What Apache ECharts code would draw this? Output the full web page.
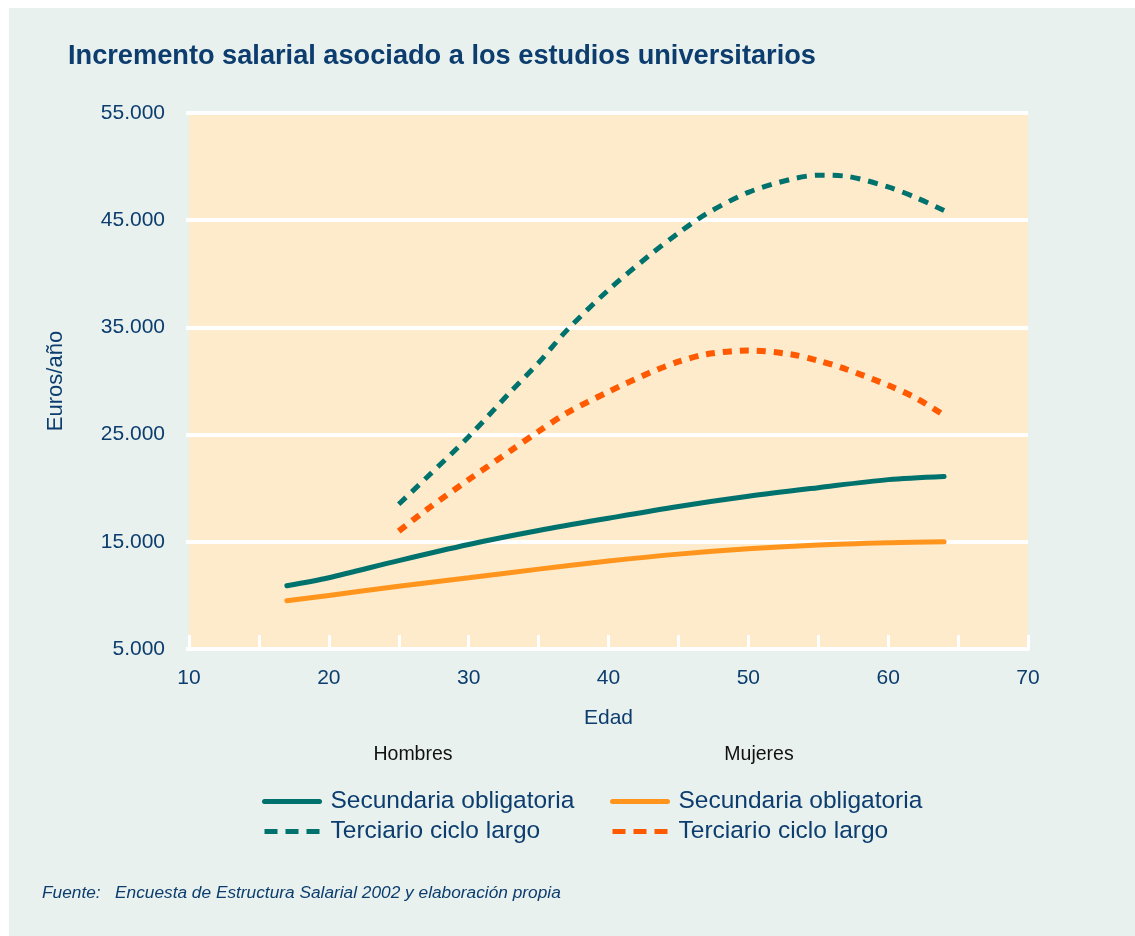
<!DOCTYPE html>
<html>
<head>
<meta charset="utf-8">
<script src="https://cdn.jsdelivr.net/npm/echarts@6/dist/echarts.min.js"></script>
<style>
  html, body { margin: 0; padding: 0; background: #fff; }
  #wrap { position: relative; width: 1135px; height: 936px; background: #fff; }
  #chart { position: absolute; left: 9px; top: 8px; width: 1126px; height: 928px; }
</style>
</head>
<body>
<div id="wrap"><div id="chart"></div></div>
<script>
// datos
const agesSec = [17, 20, 25, 30, 35, 40, 45, 50, 55, 60, 64]
const hombresSec = [10900, 11650, 13250, 14750, 16050, 17200, 18300, 19250, 20050, 20800, 21100]
const mujeresSec = [9500, 10000, 10850, 11650, 12450, 13200, 13850, 14350, 14700, 14900, 15000]

const agesTer = [25, 27, 30, 33, 35, 37, 40, 43, 45, 47, 50, 53, 55, 57, 60, 62, 64]
const hombresTer = [18500, 21000, 24800, 29000, 31700, 34700, 38500, 41800, 43800, 45600, 47600, 48800, 49200, 49100, 48100, 47100, 45900]
const mujeresTer = [16000, 18000, 20800, 23500, 25300, 27000, 29000, 30800, 31800, 32500, 32850, 32500, 31900, 31100, 29600, 28400, 26800]

const yTicks = [5000, 15000, 25000, 35000, 45000, 55000]

const TEAL = '#00726D'
const ORANGE = '#FF951C'
const RED_ORANGE = '#FF5A00'
const BLUE_TXT = '#0C3D6E'
const FONT = 'Liberation Sans, Arial, sans-serif'

const pairs = (xs, ys) => xs.map((x, i) => [x, ys[i]])
const miles = v => String(v).replace(/\B(?=(\d{3})+(?!\d))/g, '.')
const legendLabel = name => name.split(' · ')[1]

// leyenda: solo la linea, sin simbolo
const noSymbol = { color: 'rgba(0,0,0,0)', borderWidth: 0 }
const legendBase = {
  orient: 'vertical',
  top: 781,
  padding: 0,
  itemWidth: 55,
  itemHeight: 14,
  itemGap: 5,
  selectedMode: false,
  formatter: legendLabel,
  lineStyle: { width: 5 },
  textStyle: { color: BLUE_TXT, fontSize: 24.5, fontFamily: FONT, padding: [0, 0, 0, 6] }
}

const chart = echarts.init(document.getElementById('chart'))

const option = {
  backgroundColor: '#E8F1EE',
  animation: false,
  textStyle: { fontFamily: FONT },
  title: [
    {
      text: 'Incremento salarial asociado a los estudios universitarios',
      left: 59,
      top: 35,
      padding: 0,
      textStyle: { color: BLUE_TXT, fontSize: 27.2, fontWeight: 'bold', fontFamily: FONT }
    },
    {
      text: 'Fuente:   Encuesta de Estructura Salarial 2002 y elaboración propia',
      left: 33,
      top: 877,
      padding: 0,
      textStyle: { color: BLUE_TXT, fontSize: 17.3, fontStyle: 'italic', fontWeight: 'normal', fontFamily: FONT }
    }
  ],
  graphic: [
    { type: 'text', x: 404, y: 747, style: { text: 'Hombres', fill: '#111', font: '19.5px ' + FONT, align: 'center', verticalAlign: 'middle' } },
    { type: 'text', x: 750, y: 747, style: { text: 'Mujeres', fill: '#111', font: '19.5px ' + FONT, align: 'center', verticalAlign: 'middle' } }
  ],
  grid: {
    left: 180,
    top: 105,
    right: 107,
    bottom: 287,
    show: true,
    backgroundColor: '#FEEBCB',
    borderWidth: 0
  },
  legend: [
    Object.assign({}, legendBase, {
      left: 253,
      data: [
        { name: 'H · Secundaria obligatoria', itemStyle: noSymbol },
        { name: 'H · Terciario ciclo largo', itemStyle: noSymbol, lineStyle: { type: [13, 8] } }
      ]
    }),
    Object.assign({}, legendBase, {
      left: 601,
      data: [
        { name: 'M · Secundaria obligatoria', itemStyle: noSymbol },
        { name: 'M · Terciario ciclo largo', itemStyle: noSymbol, lineStyle: { type: [13, 8] } }
      ]
    })
  ],
  xAxis: {
    type: 'value',
    min: 10,
    max: 70,
    interval: 10,
    name: 'Edad',
    nameLocation: 'middle',
    nameGap: 59,
    nameTextStyle: { color: BLUE_TXT, fontSize: 21, fontFamily: FONT },
    axisLine: { show: true, lineStyle: { color: '#fff', width: 4 } },
    axisTick: { show: true, inside: true, length: 14, lineStyle: { color: '#fff', width: 3 } },
    minorTick: { show: true, splitNumber: 2, length: 14, lineStyle: { color: '#fff', width: 3 } },
    splitLine: { show: false },
    axisLabel: { color: BLUE_TXT, fontSize: 21, margin: 19, fontFamily: FONT }
  },
  yAxis: {
    type: 'value',
    min: yTicks[0],
    max: yTicks[yTicks.length - 1],
    interval: 10000,
    name: 'Euros/año',
    nameLocation: 'middle',
    nameGap: 122,
    nameTextStyle: { color: BLUE_TXT, fontSize: 22, fontFamily: FONT },
    axisLine: { show: false },
    axisTick: { show: true, length: 3, lineStyle: { color: '#fff', width: 4 } },
    splitLine: { show: true, lineStyle: { color: '#fff', width: 4 } },
    axisLabel: { color: BLUE_TXT, fontSize: 21, margin: 24, fontFamily: FONT, formatter: miles }
  },
  series: [
    {
      name: 'H · Secundaria obligatoria',
      type: 'line',
      smooth: 0.3,
      symbol: 'none',
      color: TEAL,
      lineStyle: { color: TEAL, width: 5, cap: 'round' },
      data: pairs(agesSec, hombresSec)
    },
    {
      name: 'H · Terciario ciclo largo',
      type: 'line',
      smooth: 0.3,
      symbol: 'none',
      color: TEAL,
      lineStyle: { color: TEAL, width: 5, type: [10, 8] },
      data: pairs(agesTer, hombresTer)
    },
    {
      name: 'M · Secundaria obligatoria',
      type: 'line',
      smooth: 0.3,
      symbol: 'none',
      color: ORANGE,
      lineStyle: { color: ORANGE, width: 5, cap: 'round' },
      data: pairs(agesSec, mujeresSec)
    },
    {
      name: 'M · Terciario ciclo largo',
      type: 'line',
      smooth: 0.3,
      symbol: 'none',
      color: RED_ORANGE,
      lineStyle: { color: RED_ORANGE, width: 6, type: [9, 8] },
      data: pairs(agesTer, mujeresTer)
    }
  ]
}

chart.setOption(option)
</script>
</body>
</html>
